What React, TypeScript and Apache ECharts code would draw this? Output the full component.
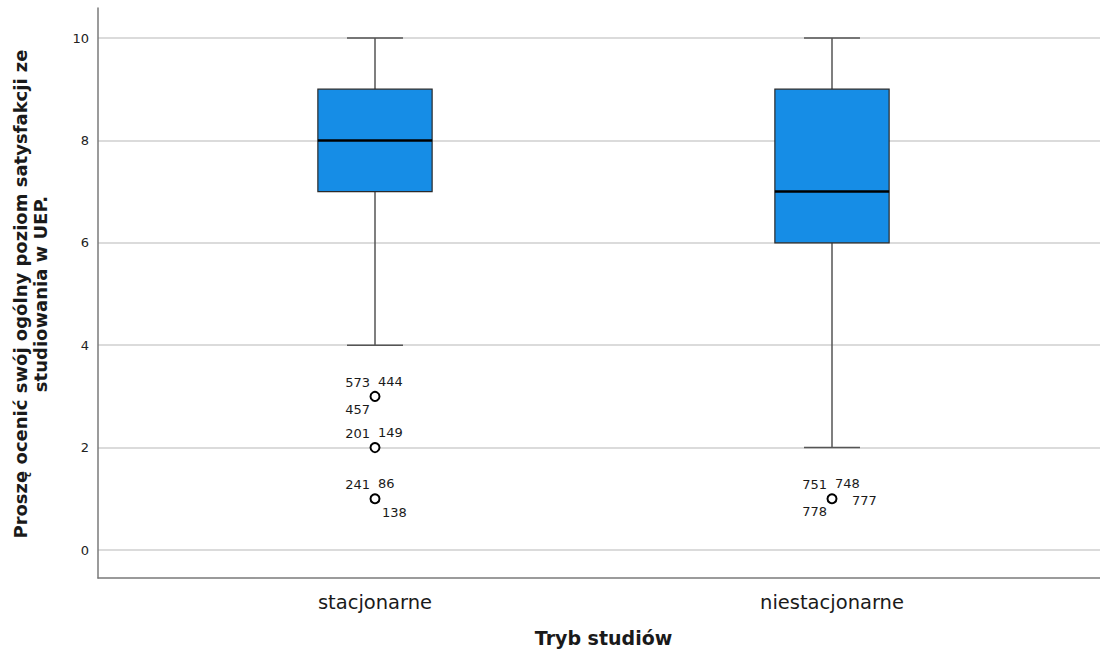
import React, { useEffect, useRef } from "react";
import * as echarts from "echarts";

// ---- data ----
const categories = ["stacjonarne", "niestacjonarne"];
const whiskerLow = [4, 2];
const q1 = [7, 6];
const median = [8, 7];
const q3 = [9, 9];
const whiskerHigh = [10, 10];

const outlierCategory = [0, 0, 0, 1];
const outlierValue = [3, 2, 1, 1];
// case labels per outlier: [upper-left, upper-right, lower-left, lower-right, right]
const outlierCases: string[][] = [
  ["573", "444", "457", "", ""],
  ["201", "149", "", "", ""],
  ["241", "86", "", "138", ""],
  ["751", "748", "778", "", "777"],
];

const yTicks = { min: 0, max: 10, interval: 2 };
const xTitle = "Tryb studiów";
const yTitle = "Proszę ocenić swój ogólny poziom satysfakcji ze\nstudiowania w UEP.";

const FONT = "'DejaVu Sans', 'Open Sans', sans-serif";

export default function App() {
  const ref = useRef<HTMLDivElement>(null);
  useEffect(() => {
    if (!ref.current) return;
    const chart = echarts.init(ref.current, null, { renderer: "svg" });

    const boxData = categories.map((_, i) => [i, whiskerLow[i], q1[i], median[i], q3[i], whiskerHigh[i]]);
    const outData = outlierCategory.map((c, i) => [c, outlierValue[i], i]);

    // offsets of case labels relative to the point (style only)
    const labelOffsets = [
      { dx: -5, dy: -14, align: "right" },
      { dx: 3, dy: -15, align: "left" },
      { dx: -5, dy: 13, align: "right" },
      { dx: 7, dy: 14, align: "left" },
      { dx: 20, dy: 2, align: "left" },
    ];

    const option: any = {
      animation: false,
      grid: [
        { left: 98, right: 0, top: 8, bottom: 79, outerBoundsMode: "none", containLabel: false },
        { left: 98, right: 0, top: 38, bottom: 107, outerBoundsMode: "none", containLabel: false },
        { left: 146.5, right: 39.5, top: 38, bottom: 107, outerBoundsMode: "none", containLabel: false },
      ],
      xAxis: [
        {
          gridIndex: 0, type: "value", min: 0, max: 1,
          axisLine: { show: true, onZero: false, lineStyle: { color: "#7a7a7a", width: 1.5 } },
          axisTick: { show: false }, axisLabel: { show: false }, splitLine: { show: false },
        },
        { gridIndex: 1, type: "value", show: false, min: 0, max: 1 },
        {
          gridIndex: 2, type: "category", data: categories, boundaryGap: true,
          axisLine: { show: false }, axisTick: { show: false },
          axisLabel: { margin: 42, fontSize: 19.5, color: "#1a1a1a", fontFamily: FONT },
          name: xTitle, nameLocation: "middle", nameGap: 78,
          nameTextStyle: { fontSize: 19, fontWeight: "bold", color: "#1a1a1a", fontFamily: FONT },
        },
      ],
      yAxis: [
        {
          gridIndex: 0, type: "value", min: 0, max: 1,
          axisLine: { show: true, onZero: false, lineStyle: { color: "#7a7a7a", width: 1.5 } },
          axisTick: { show: false }, axisLabel: { show: false }, splitLine: { show: false },
        },
        {
          gridIndex: 1, type: "value", min: yTicks.min, max: yTicks.max, interval: yTicks.interval,
          axisLine: { show: false }, axisTick: { show: false },
          axisLabel: { margin: 9, fontSize: 13, color: "#222", fontFamily: FONT },
          splitLine: { show: true, lineStyle: { color: "#cfcfcf", width: 1.5 } },
          name: yTitle, nameLocation: "middle", nameGap: 48, nameRotate: 90,
          nameTextStyle: { fontSize: 18, fontWeight: "bold", color: "#1a1a1a", fontFamily: FONT, lineHeight: 20 },
        },
        { gridIndex: 2, type: "value", min: yTicks.min, max: yTicks.max, show: false },
      ],
      series: [
        {
          type: "custom",
          xAxisIndex: 2, yAxisIndex: 2,
          data: boxData,
          renderItem: (params: any, api: any) => {
            const c = api.value(0);
            const bw = api.size([1, 0])[0] * 0.25;
            const cw = bw * 0.49;
            const pLow = api.coord([c, api.value(1)]);
            const pQ1 = api.coord([c, api.value(2)]);
            const pMed = api.coord([c, api.value(3)]);
            const pQ3 = api.coord([c, api.value(4)]);
            const pHigh = api.coord([c, api.value(5)]);
            const x = pLow[0];
            const wStyle = { stroke: "#555", lineWidth: 1.5 };
            return {
              type: "group",
              children: [
                { type: "line", shape: { x1: x, y1: pHigh[1], x2: x, y2: pQ3[1] }, style: wStyle },
                { type: "line", shape: { x1: x, y1: pQ1[1], x2: x, y2: pLow[1] }, style: wStyle },
                { type: "line", shape: { x1: x - cw / 2, y1: pHigh[1], x2: x + cw / 2, y2: pHigh[1] }, style: wStyle },
                { type: "line", shape: { x1: x - cw / 2, y1: pLow[1], x2: x + cw / 2, y2: pLow[1] }, style: wStyle },
                {
                  type: "rect",
                  shape: { x: x - bw / 2, y: pQ3[1], width: bw, height: pQ1[1] - pQ3[1] },
                  style: { fill: "#168de6", stroke: "#2a2a2a", lineWidth: 1.2 },
                },
                { type: "line", shape: { x1: x - bw / 2, y1: pMed[1], x2: x + bw / 2, y2: pMed[1] }, style: { stroke: "#000", lineWidth: 2.5 } },
              ],
            };
          },
        },
        {
          type: "custom",
          xAxisIndex: 2, yAxisIndex: 2,
          data: outData,
          renderItem: (params: any, api: any) => {
            const p = api.coord([api.value(0), api.value(1)]);
            const idx = api.value(2);
            const cases = outlierCases[idx];
            const children: any[] = [
              { type: "circle", shape: { cx: p[0], cy: p[1], r: 4.5 }, style: { fill: "#fff", stroke: "#000", lineWidth: 2 } },
            ];
            cases.forEach((t, k) => {
              if (!t) return;
              const o = labelOffsets[k];
              children.push({
                type: "text",
                x: p[0] + o.dx, y: p[1] + o.dy,
                style: { text: t, fontSize: 13, fill: "#1a1a1a", fontFamily: FONT, align: o.align, verticalAlign: "middle" },
              });
            });
            return { type: "group", children };
          },
        },
      ],
    };
    chart.setOption(option);
    return () => chart.dispose();
  }, []);

  return (
    <div
      ref={ref}
      style={{ position: "fixed", left: 0, top: 0, width: 1100, height: 657, background: "#fff" }}
    />
  );
}
